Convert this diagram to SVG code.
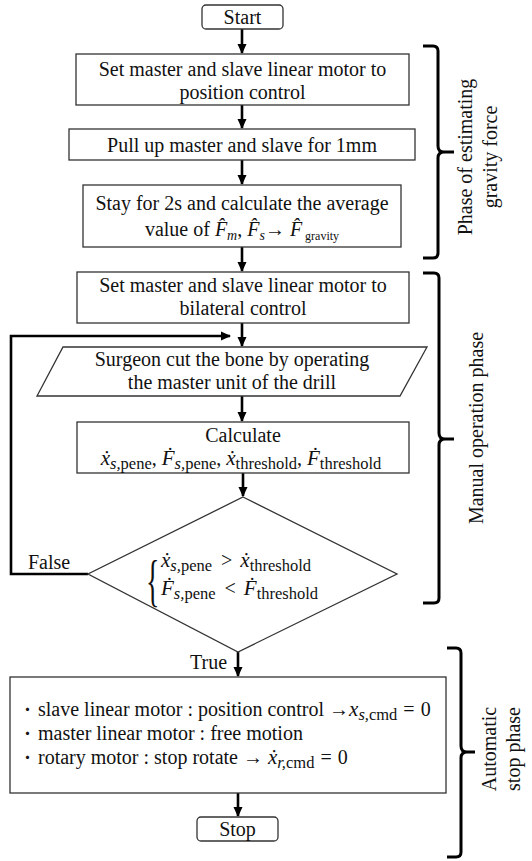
<svg xmlns="http://www.w3.org/2000/svg" width="532" height="861" viewBox="0 0 532 861">
<style>
text{font-family:"Liberation Serif","Times New Roman",Times,"DejaVu Serif",serif;font-size:20px;fill:#111}
.cjk{font-family:"Noto Sans CJK JP","Liberation Serif",sans-serif;font-size:15px}
.c{text-anchor:middle}
.it{font-style:italic}
.v{font-style:italic;font-size:21px}
.sub{font-size:14px}
.ms{font-size:16.5px}
.sm{font-size:12px}
.box{fill:#fff;stroke:#333;stroke-width:1.3}
.con{fill:none;stroke:#000;stroke-width:2.6}
.br{fill:none;stroke:#000;stroke-width:3}
</style>
<defs>
<marker id="ah" markerUnits="userSpaceOnUse" markerWidth="10" markerHeight="10" refX="9" refY="5" orient="auto">
<path d="M0,0.5 L10,5 L0,9.5 z" fill="#000"/>
</marker>
</defs>
<rect width="532" height="861" fill="#fff"/>

<g id="connectors">
<line class="con" x1="242" y1="29" x2="242" y2="53" marker-end="url(#ah)"/>
<line class="con" x1="242" y1="105" x2="242" y2="128" marker-end="url(#ah)"/>
<line class="con" x1="242" y1="160" x2="242" y2="184" marker-end="url(#ah)"/>
<line class="con" x1="242" y1="247" x2="242" y2="271" marker-end="url(#ah)"/>
<line class="con" x1="242" y1="323" x2="242" y2="346" marker-end="url(#ah)"/>
<line class="con" x1="242" y1="396" x2="242" y2="421" marker-end="url(#ah)"/>
<line class="con" x1="243" y1="473" x2="243" y2="496" marker-end="url(#ah)"/>
<path class="con" d="M88,574 H11 V336 H230" stroke-width="3" marker-end="url(#ah)"/>
<line class="con" x1="238" y1="652" x2="238" y2="676" marker-end="url(#ah)"/>
<line class="con" x1="238" y1="793" x2="238" y2="816" marker-end="url(#ah)"/>
<text x="28" y="569">False</text>
<text x="190" y="669">True</text>
</g>

<g id="start">
<rect class="box" x="202" y="5" width="81" height="24" rx="4"/>
<text class="c" x="242.5" y="24">Start</text>
</g>

<g id="set-position">
<rect class="box" x="76" y="54" width="333" height="51"/>
<text class="c" x="242.5" y="76">Set master and slave linear motor to</text>
<text class="c" x="242.5" y="99">position control</text>
</g>

<g id="pull-up">
<rect class="box" x="69" y="129" width="346" height="31"/>
<text class="c" x="242" y="151.5">Pull up master and slave for 1mm</text>
</g>

<g id="stay">
<rect class="box" x="83" y="185" width="318" height="62"/>
<text class="c" x="242" y="210">Stay for 2s and calculate the average</text>
<text class="c" x="242" y="236">value of <tspan class="it">F̂</tspan><tspan class="it sub" dy="4">m</tspan><tspan dy="-4">, </tspan><tspan class="it">F̂</tspan><tspan class="it sub" dy="4">s</tspan><tspan dy="-4">→ </tspan><tspan class="it">F̂</tspan><tspan class="sm" dy="4"> gravity</tspan></text>
</g>

<g id="set-bilateral">
<rect class="box" x="77" y="272" width="332" height="51"/>
<text class="c" x="243" y="292">Set master and slave linear motor to</text>
<text class="c" x="243" y="315">bilateral control</text>
</g>

<g id="surgeon-cut">
<polygon class="box" points="63,347 427,347 400,396 37,396"/>
<text class="c" x="232" y="366">Surgeon cut the bone by operating</text>
<text class="c" x="232" y="389">the master unit of the drill</text>
</g>

<g id="calculate">
<rect class="box" x="77" y="422" width="332" height="51"/>
<text class="c" x="243" y="442">Calculate</text>
<text class="c" x="241" y="465"><tspan class="v">ẋ</tspan><tspan class="it ms" dy="4">s,</tspan><tspan class="ms">pene</tspan><tspan dy="-4">, </tspan><tspan class="v">Ḟ</tspan><tspan class="it ms" dy="4">s,</tspan><tspan class="ms">pene</tspan><tspan dy="-4">, </tspan><tspan class="v">ẋ</tspan><tspan class="ms" dy="4">threshold</tspan><tspan dy="-4">, </tspan><tspan class="v">Ḟ</tspan><tspan class="ms" dy="4">threshold</tspan></text>
</g>

<g id="decision">
<polygon class="box" points="243,497 397,574 238,652 88,574"/>
<text x="0" y="0" transform="translate(146,600) scale(0.5,1)" style="font-size:56px">{</text>
<text x="161" y="567"><tspan class="v">ẋ</tspan><tspan class="it ms" dy="4">s,</tspan><tspan class="ms">pene</tspan><tspan dy="-4" dx="9">&gt;</tspan><tspan class="v" dx="8">ẋ</tspan><tspan class="ms" dy="4">threshold</tspan></text>
<text x="161" y="595"><tspan class="v">Ḟ</tspan><tspan class="it ms" dy="4">s,</tspan><tspan class="ms">pene</tspan><tspan dy="-4" dx="9">&lt;</tspan><tspan class="v" dx="8">Ḟ</tspan><tspan class="ms" dy="4">threshold</tspan></text>
</g>

<g id="auto-stop">
<rect class="box" x="10" y="677" width="436" height="116"/>
<text class="cjk" x="20" y="715">・</text>
<text class="cjk" x="20" y="739">・</text>
<text class="cjk" x="20" y="763">・</text>
<text x="38" y="716">slave linear motor : position control →<tspan class="v">x</tspan><tspan class="it ms" dy="4">s,</tspan><tspan class="ms">cmd</tspan><tspan dy="-4" dx="6">=</tspan><tspan dx="6">0</tspan></text>
<text x="38" y="740">master linear motor : free motion</text>
<text x="38" y="764">rotary motor : stop rotate → <tspan class="v">ẋ</tspan><tspan class="it ms" dy="4">r,</tspan><tspan class="ms">cmd</tspan><tspan dy="-4" dx="6">=</tspan><tspan dx="6">0</tspan></text>
</g>

<g id="stop">
<rect class="box" x="197" y="817" width="81" height="24" rx="4"/>
<text class="c" x="237.5" y="836">Stop</text>
</g>

<g id="phase-gravity">
<path class="br" d="M423,46 H433 Q438,46 438,51 V146 Q438,152 444,152 H454 M444,152 Q438,152 438,158 V253 Q438,258 433,258 H423"/>
<text class="c" transform="translate(472,157) rotate(-90)">Phase of estimating</text>
<text class="c" transform="translate(497,157) rotate(-90)">gravity force</text>
</g>

<g id="phase-manual">
<path class="br" d="M423,273 H434 Q439,273 439,278 V433 Q439,439 445,439 H454 M445,439 Q439,439 439,445 V598 Q439,603 434,603 H423"/>
<text class="c" transform="translate(483,428) rotate(-90)">Manual operation phase</text>
</g>

<g id="phase-auto">
<path class="br" d="M447,648 H456 Q461,648 461,653 V746 Q461,752 467,752 H475 M467,752 Q461,752 461,758 V852 Q461,857 456,857 H447"/>
<text class="c" transform="translate(496,749) rotate(-90)">Automatic</text>
<text class="c" transform="translate(520,749) rotate(-90)">stop phase</text>
</g>
</svg>
